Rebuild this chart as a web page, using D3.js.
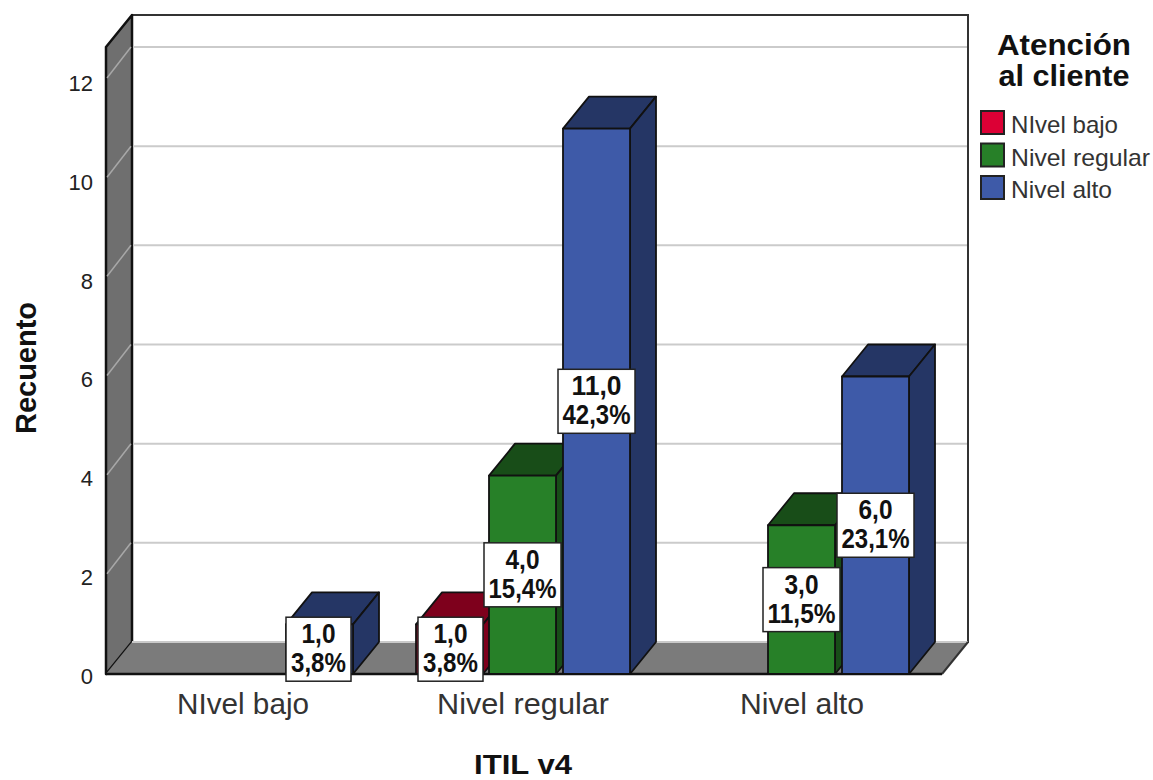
<!DOCTYPE html>
<html><head><meta charset="utf-8">
<script src="https://cdnjs.cloudflare.com/ajax/libs/d3/7.8.5/d3.min.js"></script>
<style>html,body{margin:0;background:#fff}svg{display:block}text{font-family:"Liberation Sans",Arial,sans-serif}</style>
</head><body><svg width="1153" height="780"></svg>
<script>
const categories = ["NIvel bajo","Nivel regular","Nivel alto"];
const seriesNames = ["NIvel bajo","Nivel regular","Nivel alto"];
const counts = [[0,0,1],[1,4,11],[0,3,6]];
const percentTable = [[null,null,"3,8%"],["3,8%","15,4%","42,3%"],[null,"11,5%","23,1%"]];
const countTicks = [0,2,4,6,8,10,12];
const frontColors = ["#d3002f","#278028","#3e5aa8"];
const topColors = ["#7e001c","#184d18","#253665"];
const legendSwatch = ["#dc0035","#278028","#3e5aa8"];

const svg = d3.select("svg");
const y = d3.scaleLinear().domain([0,12]).range([674,79]);
const yLabels = d3.scaleLinear().domain([0,12]).range([675,82.5]);
const dx = 26, dy = 32;
const barW = 67;
const barLeft = [[0,0,286],[416,489,563],[0,768,842]];
const ink = "#111";

// Text fitted to a set width by scaling its glyphs.
function label(parent, x, yPos, str, size, width, opts = {}) {
  return parent.append("text").attr("x", x).attr("y", yPos)
    .attr("text-anchor", opts.anchor || "middle").attr("font-size", size)
    .attr("font-weight", opts.bold ? "bold" : "normal")
    .attr("fill", opts.fill || "#111")
    .attr("textLength", width)
    .attr("lengthAdjust", "spacingAndGlyphs")
    .text(str);
}

// back wall, left wall and floor of the 3D box
const wallL = 132, wallR = 968, wallT = 15, wallB = 642;
svg.append("rect").attr("x",wallL).attr("y",wallT).attr("width",wallR-wallL).attr("height",wallB-wallT).attr("fill","#fff").attr("stroke","#333").attr("stroke-width",2);
svg.append("path").attr("d",`M${wallL-dx},${wallT+dy}L${wallL},${wallT}L${wallL},${wallB}L${wallL-dx},${y(0)}Z`).attr("fill","#6f6f6f").attr("stroke",ink).attr("stroke-width",2.5).attr("stroke-linejoin","round");
svg.append("path").attr("d",`M${wallL-dx},${y(0)}L${wallL},${wallB}L${wallR},${wallB}L${wallR-dx},${y(0)}Z`).attr("fill","#7b7b7b");
svg.append("line").attr("x1",wallL).attr("x2",wallR).attr("y1",wallB).attr("y2",wallB).attr("stroke","#c9c9c9").attr("stroke-width",2);
svg.append("line").attr("x1",wallR).attr("x2",wallR-dx).attr("y1",wallB).attr("y2",y(0)).attr("stroke","#333").attr("stroke-width",2);

// grid lines across the back wall and down the left wall
[...countTicks.filter(t=>t>0),13].forEach(t=>{
  svg.append("line").attr("x1",wallL+1).attr("x2",wallR-1).attr("y1",y(t)-dy).attr("y2",y(t)-dy).attr("stroke","#cbcbcb").attr("stroke-width",2);
  if(t<13) svg.append("line").attr("x1",wallL-1).attr("x2",wallL-dx+1).attr("y1",y(t)-dy).attr("y2",y(t)-1).attr("stroke","#a8a8a8").attr("stroke-width",1.5);
});

// value axis
const axis = d3.axisLeft(yLabels).tickValues(countTicks).tickSize(0).tickPadding(13);
const ga = svg.append("g").attr("transform","translate(106,0)").call(axis);
ga.select(".domain").remove();
ga.selectAll("text").attr("font-size",22).attr("fill","#222").attr("dy","8px");
svg.append("line").attr("x1",106).attr("x2",942).attr("y1",y(0)).attr("y2",y(0)).attr("stroke",ink).attr("stroke-width",2.5);

// bars
categories.forEach((c,i)=>{
  counts[i].forEach((v,j)=>{
    if(!v) return;
    const l = barLeft[i][j], r = l+barW, t = y(v), b = y(0);
    const g = svg.append("g").attr("stroke",ink).attr("stroke-width",1.8).attr("stroke-linejoin","round");
    g.append("path").attr("d",`M${l},${t}L${l+dx},${t-dy}L${r+dx},${t-dy}L${r},${t}Z`).attr("fill",topColors[j]);
    g.append("path").attr("d",`M${r},${t}L${r+dx},${t-dy}L${r+dx},${b-dy}L${r},${b}Z`).attr("fill",topColors[j]);
    g.append("rect").attr("x",l).attr("y",t).attr("width",barW).attr("height",b-t).attr("fill",frontColors[j]);
  });
});

// value labels
categories.forEach((c,i)=>{
  counts[i].forEach((v,j)=>{
    if(!v) return;
    const pct = percentTable[i][j];
    const cx = barLeft[i][j]+barW/2 + (v===1?(i===0?-1:1):0);
    const cy = (y(v)+y(0))/2;
    const w = pct.length>4?77:65, h=64;
    const g = svg.append("g");
    g.append("rect").attr("x",cx-w/2).attr("y",cy-h/2).attr("width",w).attr("height",h).attr("fill","#fff").attr("stroke","#222").attr("stroke-width",1.5);
    label(g,cx,cy-6,v.toFixed(1).replace(".",","),28,v>=10?50:34,{bold:true});
    label(g,cx,cy+23,pct,28,pct.length>4?68:55,{bold:true});
  });
});

// category labels and axis titles
const catCentres = [243,523,802], catWidths = [132,172,124];
categories.forEach((c,i)=>label(svg,catCentres[i],714,c,29,catWidths[i],{fill:"#333"}));
label(svg,523,774,"ITIL v4",27,98,{bold:true});
svg.append("text").attr("transform","translate(36,368) rotate(-90)").attr("text-anchor","middle").attr("font-size",29).attr("font-weight","bold").attr("fill","#111").attr("textLength",132).attr("lengthAdjust","spacingAndGlyphs").text("Recuento");

// legend
label(svg,1064,55,"Atención",30,134,{bold:true});
label(svg,1064,86,"al cliente",30,131,{bold:true});
const legendWidths = [107,139,101];
seriesNames.forEach((n,j)=>{
  const top = 111+j*32.5;
  svg.append("rect").attr("x",981).attr("y",top).attr("width",23).attr("height",23).attr("fill",legendSwatch[j]).attr("stroke","#222").attr("stroke-width",2);
  label(svg,1011,top+22,n,24,legendWidths[j],{anchor:"start",fill:"#333"});
});
</script></body></html>
